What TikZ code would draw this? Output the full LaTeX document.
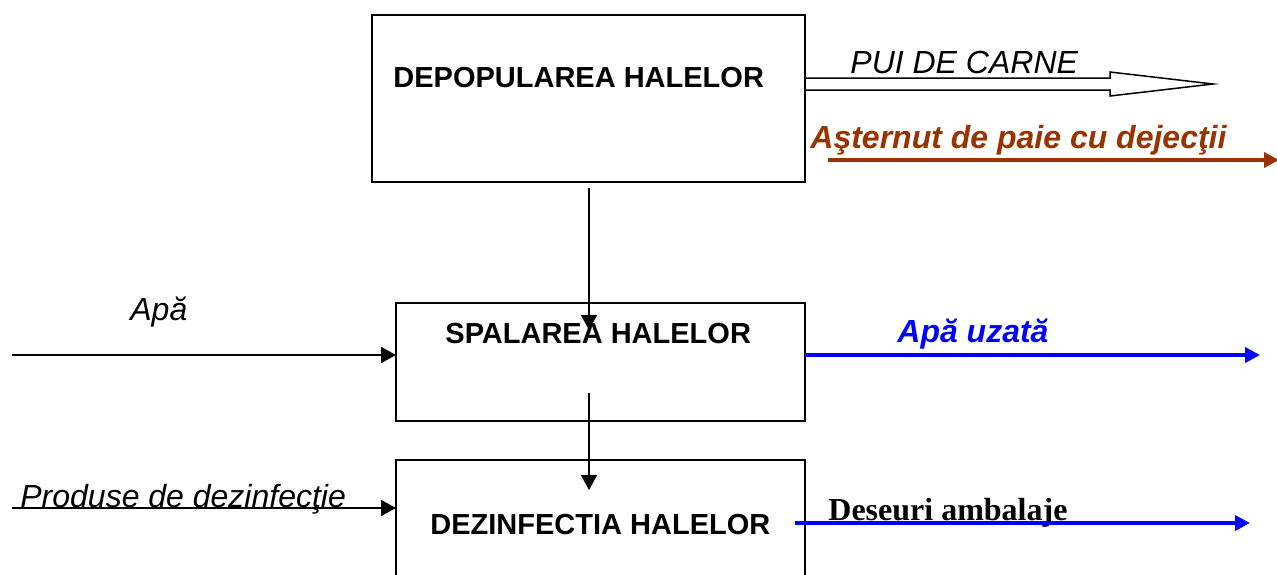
\documentclass[tikz,border=0pt]{standalone}
\usepackage{fontspec}
\setmainfont{Liberation Sans}
\newfontfamily\timesfont{Liberation Serif}
\usetikzlibrary{arrows.meta,calc}
\definecolor{litter}{RGB}{153,51,0}
\definecolor{waste}{RGB}{0,0,255}
\begin{document}
\begin{tikzpicture}[x=0.5pt,y=-0.5pt,
  stage/.style={draw, line width=1pt, inner sep=0pt, outer sep=0pt},
  stagelabel/.style={font=\fontsize{14.5}{17}\selectfont\bfseries, inner sep=0pt, anchor=base west},
  flowlabel/.style={font=\fontsize{16}{19}\selectfont\itshape, inner sep=0pt, anchor=base west},
  flowbold/.style={font=\fontsize{16}{19}\selectfont\bfseries\itshape, inner sep=0pt, anchor=base west},
  thinflow/.style={line width=0.75pt, -{Triangle[length=7.5pt,width=8pt]}},
  heavyflow/.style={line width=2pt, -{Triangle[length=7.5pt,width=7.5pt]}},
]
\useasboundingbox (0,0) rectangle (1277,574);

% process stages
\node[stage, minimum width=216.5pt, minimum height=83.5pt] (box1) at (588.5,98.5) {};
\node[stage, minimum width=204.5pt, minimum height=59pt] (box2) at (600.5,362) {};
\node[stage, minimum width=204.5pt, minimum height=80pt] (box3) at (600.5,540) {};

\node[stagelabel] (l1) at (393,87) {DEPOPULAREA HALELOR};
\node[stagelabel] (l2) at (445,343) {SPALAREA HALELOR};
\node[stagelabel] (l3) at (430,534) {DEZINFECTIA HALELOR};

% broilers leaving the halls (hollow arrow)
\draw[line width=0.75pt, fill=white]
  (805,78) -- (1110,78) -- (1110,72) -- (1213,84) -- (1110,96) -- (1110,90) -- (805,90) -- cycle;
\node[flowlabel] (pui) at (850,73) {PUI DE CARNE};

% litter removal
\node[flowbold, text=litter] (ast) at (810,148) {Aşternut de paie cu dejecţii};
\coordinate (astA) at (828,160);
\coordinate (astB) at (1279,160);
\draw[heavyflow, line width=1.75pt, draw=litter, fill=litter] (astA) -- (astB);

% flow between stages
\coordinate (d1) at ($(box1.south)+(0.5,6)$);
\coordinate (d1e) at ($(box2.north)+(-11.5,27)$);
\draw[thinflow] (d1) -- (d1e);
\coordinate (d2) at ($(box2.south)+(-11.5,-28)$);
\coordinate (d2e) at ($(box3.north)+(-11.5,30)$);
\draw[thinflow] (d2) -- (d2e);

% water in / waste water out
\node[flowlabel] (apa) at (130,320) {Apă};
\coordinate (apaIn) at (12,355);
\draw[thinflow] (apaIn) -- (apaIn -| box2.west);
\node[flowbold, text=waste] (uzata) at (897,342) {Apă uzată};
\coordinate (uzA) at ($(box2.east)+(0,-7)$);
\coordinate (uzB) at (1260,355);
\draw[heavyflow, draw=waste, fill=waste] (uzA) -- (uzB);

% disinfectants in / packaging waste out
\node[flowlabel] (prod) at (20,507) {Produse de dezinfecţie};
\coordinate (prodIn) at (12,508);
\draw[thinflow] (prodIn) -- (prodIn -| box3.west);
\node[font=\timesfont\fontsize{16}{19}\selectfont\bfseries, inner sep=0pt, anchor=base west] (des) at (828,520) {Deseuri ambalaje};
\coordinate (desA) at (795,523);
\coordinate (desB) at (1250,523);
\draw[heavyflow, draw=waste, fill=waste] (desA) -- (desB);
\end{tikzpicture}
\end{document}
